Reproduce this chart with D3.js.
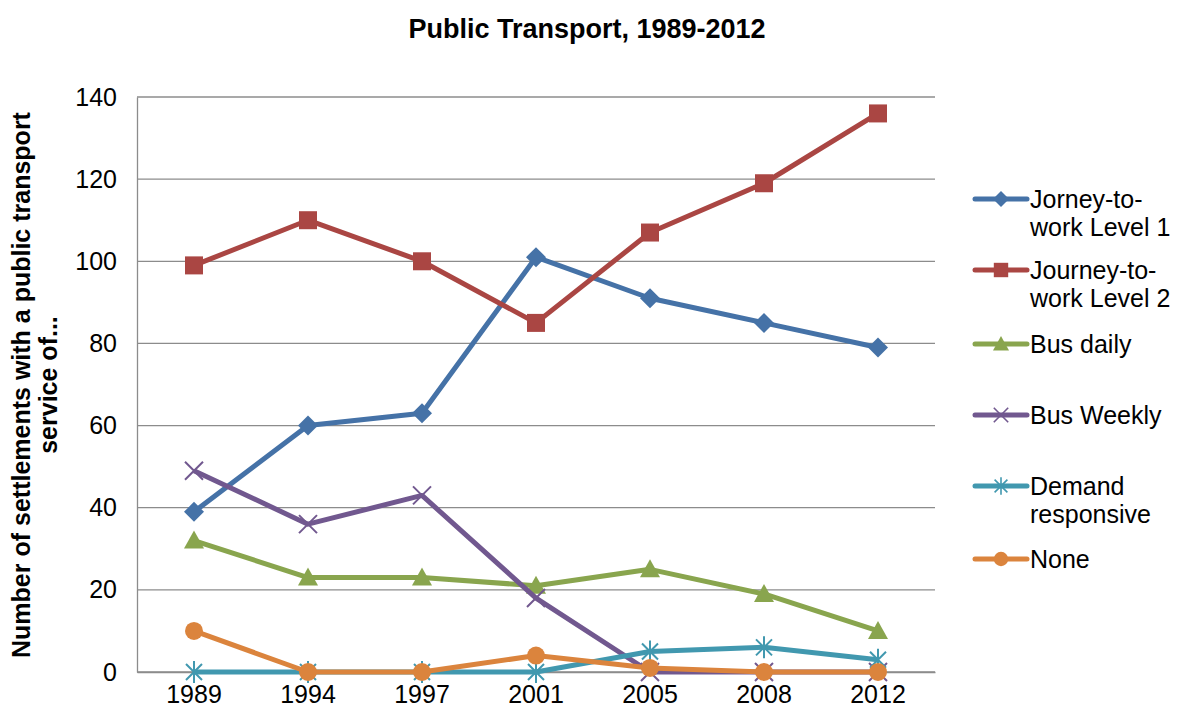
<!DOCTYPE html>
<html>
<head>
<meta charset="utf-8">
<script src="https://cdnjs.cloudflare.com/ajax/libs/d3/7.8.5/d3.min.js"></script>
<style>
  body { margin: 0; background: #fff; }
  text { font-family: "Liberation Sans", Arial, sans-serif; fill: #000; }
</style>
</head>
<body>
<div id="chart"></div>
<script>
var years = ['1989', '1994', '1997', '2001', '2005', '2008', '2012'];
var journeyL1 = [39, 60, 63, 101, 91, 85, 79];
var journeyL2 = [99, 110, 100, 85, 107, 119, 136];
var busDaily = [32, 23, 23, 21, 25, 19, 10];
var busWeekly = [49, 36, 43, 18, 0, 0, 0];
var demandResp = [0, 0, 0, 0, 5, 6, 3];
var noneServ = [10, 0, 0, 4, 1, 0, 0];
var yTicks = [0, 20, 40, 60, 80, 100, 120, 140];

var series = [
    { name: ['Jorney-to-', 'work Level 1'], values: journeyL1, color: '#4572A7', marker: 'diamond' },
    { name: ['Journey-to-', 'work Level 2'], values: journeyL2, color: '#AA4643', marker: 'square' },
    { name: ['Bus daily'], values: busDaily, color: '#89A54E', marker: 'triangle' },
    { name: ['Bus Weekly'], values: busWeekly, color: '#71588F', marker: 'x' },
    { name: ['Demand', 'responsive'], values: demandResp, color: '#4198AF', marker: 'star' },
    { name: ['None'], values: noneServ, color: '#DB843D', marker: 'circle' }
];

var margin = { top: 97, left: 137, right: 243, bottom: 43 };
var W = 1178, H = 715;
var width = W - margin.left - margin.right,
    height = H - margin.top - margin.bottom;

var svg = d3.select('#chart').append('svg')
    .attr('width', W).attr('height', H);

svg.append('text')
    .attr('x', 587).attr('y', 38)
    .attr('text-anchor', 'middle')
    .style('font-size', '27px').style('font-weight', 'bold')
    .text('Public Transport, 1989-2012');

var g = svg.append('g')
    .attr('transform', 'translate(' + margin.left + ',' + margin.top + ')');

var xScale = d3.scaleBand().domain(years).range([0, width]);
var yScale = d3.scaleLinear().domain([0, 140]).range([height, 0]);

// gridlines
g.selectAll('.grid').data(yTicks).enter().append('line')
    .attr('class', 'grid')
    .attr('x1', 0).attr('x2', width)
    .attr('y1', function(d) { return yScale(d); })
    .attr('y2', function(d) { return yScale(d); })
    .attr('stroke', '#8c8c8c').attr('stroke-width', 1.3);

var yAxis = d3.axisLeft(yScale).tickValues(yTicks).tickSize(0).tickPadding(20);
var yg = g.append('g').call(yAxis);
yg.select('.domain').attr('stroke', '#8c8c8c').attr('stroke-width', 1.3);
yg.selectAll('text').style('font-size', '25px').attr('fill', '#000');

var xAxis = d3.axisBottom(xScale).tickSize(0).tickPadding(13);
var xg = g.append('g').attr('transform', 'translate(0,' + height + ')').call(xAxis);
xg.select('.domain').attr('stroke', '#8c8c8c').attr('stroke-width', 1.3);
xg.selectAll('text').style('font-size', '25px').attr('fill', '#000');

// y axis title
var yTitle = svg.append('text')
    .attr('transform', 'translate(30,385) rotate(-90)')
    .attr('text-anchor', 'middle')
    .style('font-size', '25px').style('font-weight', 'bold');
yTitle.append('tspan').attr('x', 0).attr('dy', 0).text('Number of settlements with a public transport');
yTitle.append('tspan').attr('x', 0).attr('dy', 27).text('service of...');

var line = d3.line()
    .x(function(d, i) { return xScale(years[i]) + xScale.bandwidth() / 2; })
    .y(function(d) { return yScale(d); });

function drawMarker(sel, type, color) {
    if (type === 'diamond') {
        sel.append('path').attr('d', 'M0,-10L10,0L0,10L-10,0Z').attr('fill', color);
    } else if (type === 'square') {
        sel.append('rect').attr('x', -9).attr('y', -9).attr('width', 18).attr('height', 18).attr('fill', color);
    } else if (type === 'triangle') {
        sel.append('path').attr('d', 'M0,-10L10,8L-10,8Z').attr('fill', color);
    } else if (type === 'x') {
        sel.append('path').attr('d', 'M-9,-9L9,9M9,-9L-9,9').attr('stroke', color).attr('stroke-width', 2).attr('fill', 'none');
    } else if (type === 'star') {
        sel.append('path').attr('d', 'M-8,-8L8,8M8,-8L-8,8M0,-11L0,11')
            .attr('stroke', color).attr('stroke-width', 2).attr('fill', 'none');
    } else if (type === 'circle') {
        sel.append('circle').attr('r', 9).attr('fill', color);
    }
}

series.forEach(function(s) {
    g.append('path')
        .datum(s.values)
        .attr('d', line)
        .attr('fill', 'none')
        .attr('stroke', s.color)
        .attr('stroke-width', 5)
        .attr('stroke-linejoin', 'round');
    g.selectAll(null).data(s.values).enter().append('g')
        .attr('transform', function(d, i) {
            return 'translate(' + (xScale(years[i]) + xScale.bandwidth() / 2) + ',' + yScale(d) + ')';
        })
        .each(function() { drawMarker(d3.select(this), s.marker, s.color); });
});

// legend
var legendY = [199, 270, 344, 415, 486, 559];
var legend = svg.append('g');
series.forEach(function(s, i) {
    var lg = legend.append('g').attr('transform', 'translate(975,' + legendY[i] + ')');
    lg.append('line').attr('x1', 0).attr('x2', 52).attr('y1', 0).attr('y2', 0)
        .attr('stroke', s.color).attr('stroke-width', 5).attr('stroke-linecap', 'round');
    var mk = lg.append('g').attr('transform', 'translate(26,0) scale(0.8)');
    drawMarker(mk, s.marker, s.color);
    var t = lg.append('text').attr('x', 55).attr('y', 9).style('font-size', '25px');
    s.name.forEach(function(n, j) {
        t.append('tspan').attr('x', 55).attr('dy', j === 0 ? 0 : 28).text(n);
    });
});
</script>
</body>
</html>
